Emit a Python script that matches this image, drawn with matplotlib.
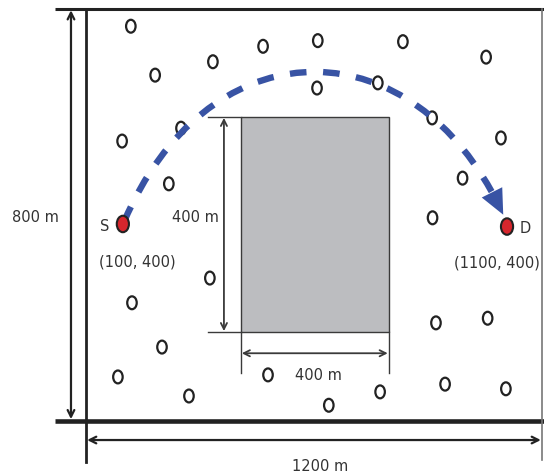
import matplotlib
matplotlib.use("Agg")
import matplotlib.pyplot as plt
from matplotlib.patches import Circle, Rectangle, PathPatch
from matplotlib.path import Path
from matplotlib.bezier import split_de_casteljau

# field size (m)
field_w = 1200
field_h = 800

# obstacle (m): left, bottom, width, height
obst_x, obst_y = 407, 172
obst_w, obst_h = 390, 418

# source / destination
src = (97, 382)
dst = (1108, 377)
src_label = "(100, 400)"
dst_label = "(1100, 400)"

# relay nodes (m)
node_x = [118, 182, 334, 466, 610, 834, 1053, 608, 768, 911, 1092, 250, 95, 218,
          991, 912, 326, 121, 200, 84, 271, 479, 639, 774, 921, 1057, 945, 1105]
node_y = [766, 671, 697, 727, 738, 736, 706, 646, 656, 588, 549, 568, 543, 460,
          471, 394, 277, 229, 143, 85, 48, 89, 30, 56, 190, 199, 71, 62]

# route around the obstacle (cubic bezier control points, m)
route_x = [100, 322, 868, 1098]
route_y = [386, 772, 772, 400]

blue = "#3853a4"
ink = "#222222"
txt = "#333333"

fig = plt.figure(figsize=(5.44, 4.75), dpi=100)
ax = fig.add_axes([0, 0, 1, 1])
ax.set_xlim(-226.3, 1205.3)
ax.set_ylim(-105.4, 816.9)
ax.axis("off")

# field border
ax.plot([-82, field_w + 10], [field_h, field_h], color=ink, lw=2.2, solid_capstyle="butt")
ax.plot([-82, field_w + 10], [0, 0], color=ink, lw=3.3, solid_capstyle="butt")
ax.plot([0, 0], [-80, field_h], color=ink, lw=2.0)
ax.plot([field_w, field_w], [-76, field_h], color="#777777", lw=1.2)

# dimension arrows of the field
arr = dict(arrowstyle="<->", color=ink, lw=1.6, shrinkA=0, shrinkB=0, mutation_scale=12)
ax.annotate("", xy=(-39.5, 3), xytext=(-39.5, field_h - 3), arrowprops=arr)
ax.annotate("", xy=(3, -37.5), xytext=(field_w - 3, -37.5), arrowprops=arr)
ax.text(-134, 394, "800 m", ha="center", va="center", fontsize=10.5, color=txt)
ax.text(616, -88, "1200 m", ha="center", va="center", fontsize=10.5, color=txt)

# obstacle
ax.add_patch(Rectangle((obst_x, obst_y), obst_w, obst_h, facecolor="#bcbdc0",
                       edgecolor="#3a3a3a", lw=1.0, zorder=2))
thin = dict(color="#3a3a3a", lw=1.0)
ax.plot([321, obst_x], [obst_y + obst_h] * 2, **thin)
ax.plot([321, obst_x], [obst_y] * 2, **thin)
ax.plot([obst_x] * 2, [92, obst_y], **thin)
ax.plot([obst_x + obst_w] * 2, [92, obst_y], **thin)
arr2 = dict(arrowstyle="<->", color="#3a3a3a", lw=1.3, shrinkA=0, shrinkB=0, mutation_scale=11)
ax.annotate("", xy=(363, obst_y + 2), xytext=(363, obst_y + obst_h - 2), arrowprops=arr2)
ax.annotate("", xy=(obst_x + 3, 131), xytext=(obst_x + obst_w - 3, 131), arrowprops=arr2)
ax.text(287, 394, "400 m", ha="center", va="center", fontsize=10.5, color=txt)
ax.text(611, 88, "400 m", ha="center", va="center", fontsize=10.5, color=txt)

# relay nodes
for x, y in zip(node_x, node_y):
    ax.add_patch(Circle((x, y), 12.5, facecolor="none", edgecolor=ink, lw=1.6, zorder=3))

# dashed route with arrow head
ctrl = list(zip(route_x, route_y))
body, head = split_de_casteljau(ctrl, 0.958)
codes = [Path.MOVETO, Path.CURVE4, Path.CURVE4, Path.CURVE4]
ax.add_patch(PathPatch(Path(body, codes), facecolor="none", edgecolor=blue, lw=4.6,
                       linestyle=(0, (2.6, 2.6)), capstyle="butt", zorder=4))
ax.annotate("", xy=tuple(head[-1]), xytext=tuple(head[0]),
            arrowprops=dict(arrowstyle="-|>,head_length=1.2,head_width=0.55",
                            color=blue, lw=0, shrinkA=0, shrinkB=0, mutation_scale=15),
            zorder=4)

# source and destination
for p in (src, dst):
    ax.add_patch(Circle(p, 16, facecolor="#d7262d", edgecolor=ink, lw=1.5, zorder=5))
ax.text(50, 378, "S", ha="center", va="center", fontsize=10.5, color=txt)
ax.text(1155, 374, "D", ha="center", va="center", fontsize=10.5, color=txt)
ax.text(134, 308, src_label, ha="center", va="center", fontsize=10.5, color=txt)
ax.text(1082, 306, dst_label, ha="center", va="center", fontsize=10.5, color=txt)

fig.savefig("out.png", dpi=100)
